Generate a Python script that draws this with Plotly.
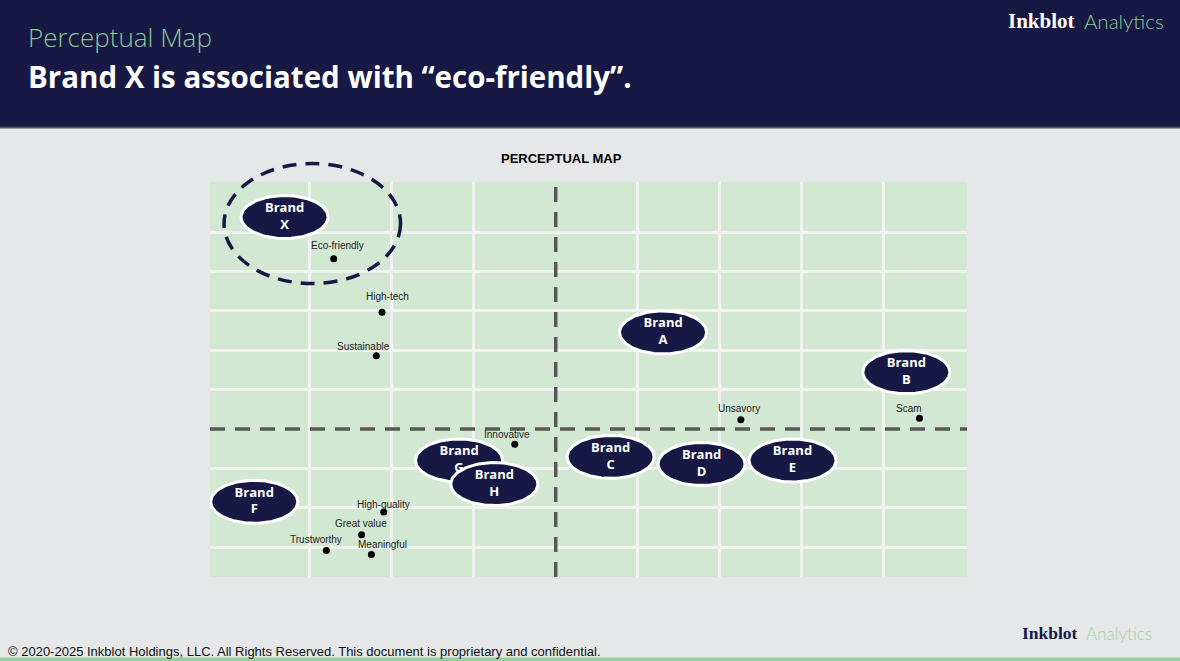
import numpy as np
import plotly.graph_objects as go

# ---------------- data ----------------
attr_names = ["Eco-friendly", "High-tech", "Sustainable", "Unsavory", "Scam",
              "Innovative", "High-quality", "Great value", "Trustworthy", "Meaningful"]
attr_x = [-2.71, -2.12, -2.19, 2.26, 4.44, -0.50, -2.10, -2.37, -2.80, -2.25]
attr_y = [4.32, 2.96, 1.86, 0.23, 0.27, -0.39, -2.11, -2.69, -3.09, -3.19]

brand_names = ["X", "A", "B", "C", "D", "E", "F", "G", "H"]
brand_x = [-3.31, 1.31, 4.28, 0.67, 1.78, 2.89, -3.68, -1.18, -0.75]
brand_y = [5.38, 2.45, 1.44, -0.71, -0.89, -0.80, -1.85, -0.80, -1.40]

highlight_brand = "X"

x_grid = [-3, -2, -1, 1, 2, 3, 4]
y_grid = [-3, -2, -1, 1, 2, 3, 4, 5]

# ---------------- styles ----------------
W, H = 1180, 661
NAVY = "#171844"
GREEN_TXT = "#8cc894"
SLIDE_BG = "#e6e7e9"
PLOT_BG = "#d3e8d3"
GRID = "#f1f3f1"
DASH = "#585858"

X_RANGE = [-4.22, 5.02]
Y_RANGE = [-3.76, 6.27]
PLOT_PX_X = (210, 967)
PLOT_PX_Y = (182, 577)
ELL_RX_PX, ELL_RY_PX = 43.5, 21.5   # ellipse half-size in pixels

# label offsets (pixels, right / up) relative to each dot
label_shift = {
    "Eco-friendly": (4, 13), "High-tech": (5, 16), "Sustainable": (-13, 9),
    "Unsavory": (-2, 11), "Scam": (-10, 10), "Innovative": (-8, 10),
    "High-quality": (0, 8), "Great value": (-1, 11), "Trustworthy": (-10, 11),
    "Meaningful": (11, 10),
}

def fx(px):
    return px / W

def fy(py):
    return 1 - py / H

XD = [fx(PLOT_PX_X[0]), fx(PLOT_PX_X[1])]
YD = [fy(PLOT_PX_Y[1]), fy(PLOT_PX_Y[0])]

def data_to_paper_x(v):
    return XD[0] + (v - X_RANGE[0]) / (X_RANGE[1] - X_RANGE[0]) * (XD[1] - XD[0])

def data_to_paper_y(v):
    return YD[0] + (v - Y_RANGE[0]) / (Y_RANGE[1] - Y_RANGE[0]) * (YD[1] - YD[0])

# pixel -> data-unit conversion from the axis scales
ux = (PLOT_PX_X[1] - PLOT_PX_X[0]) / (X_RANGE[1] - X_RANGE[0])
uy = (PLOT_PX_Y[1] - PLOT_PX_Y[0]) / (Y_RANGE[1] - Y_RANGE[0])
theta = np.linspace(0, 2 * np.pi, 121)

fig = go.Figure()

# brand ellipses + labels, in drawing order
for b, bx, by in zip(brand_names, brand_x, brand_y):
    fig.add_trace(go.Scatter(
        x=bx + (ELL_RX_PX / ux) * np.cos(theta),
        y=by + (ELL_RY_PX / uy) * np.sin(theta),
        mode="lines", fill="toself", fillcolor=NAVY,
        line=dict(color="white", width=3),
        hoverinfo="skip", showlegend=False,
    ))
    fig.add_trace(go.Scatter(
        x=[bx], y=[by], mode="text", text=["Brand<br>" + b],
        textposition="middle center",
        textfont=dict(family="Open Sans", size=13, color="white", weight=700),
        hoverinfo="skip", showlegend=False,
    ))

# attribute dots
fig.add_trace(go.Scatter(
    x=attr_x, y=attr_y, mode="markers",
    marker=dict(size=7, color="#000000"),
    hoverinfo="text", text=attr_names, showlegend=False,
))

shapes = []
# header band
shapes.append(dict(type="rect", xref="paper", yref="paper", x0=0, x1=1,
                   y0=fy(127), y1=1, fillcolor=NAVY, line=dict(width=0), layer="below"))
shapes.append(dict(type="line", xref="paper", yref="paper", x0=0, x1=1,
                   y0=fy(127.5), y1=fy(127.5), line=dict(color="#50535b", width=2), layer="below"))
# bottom green rule
shapes.append(dict(type="rect", xref="paper", yref="paper", x0=0, x1=1,
                   y0=0, y1=fy(657.5), fillcolor="#95d09b", line=dict(width=0), layer="below"))

# quadrant dashed axes
shapes.append(dict(type="line", xref="x", yref="paper", x0=0, x1=0,
                   y0=fy(577), y1=fy(186),
                   line=dict(color=DASH, width=3.5, dash="15px,10px"), layer="above"))
shapes.append(dict(type="line", xref="paper", yref="y", x0=XD[0], x1=XD[1], y0=0, y1=0,
                   line=dict(color=DASH, width=3.5, dash="15px,10px"), layer="above"))

# highlight ring around brand X (paper-referenced so it is not clipped by the plot area)
hi = brand_names.index(highlight_brand)
shapes.append(dict(
    type="circle", xref="paper", yref="paper",
    xsizemode="pixel", ysizemode="pixel",
    xanchor=data_to_paper_x(brand_x[hi]), yanchor=data_to_paper_y(brand_y[hi]),
    x0=-60.5, x1=116, y0=-66.5, y1=53.5,
    fillcolor="rgba(0,0,0,0)", line=dict(color=NAVY, width=3.5, dash="14px,9px"),
    layer="above",
))

annotations = []
# attribute labels
for n, ax_, ay_ in zip(attr_names, attr_x, attr_y):
    dx, dy = label_shift[n]
    annotations.append(dict(
        x=ax_, y=ay_, xref="x", yref="y", text=n, showarrow=False,
        xshift=dx, yshift=dy, xanchor="center", yanchor="middle",
        font=dict(family="Liberation Sans", size=10, color="#222222"),
    ))

# header texts
annotations += [
    dict(x=fx(26), y=fy(37), xref="paper", yref="paper", text="Perceptual Map",
         showarrow=False, xanchor="left", yanchor="middle",
         font=dict(family="Open Sans", size=26, color=GREEN_TXT, weight=300)),
    dict(x=fx(26), y=fy(76), xref="paper", yref="paper",
         text="Brand X is associated with “eco-friendly”.",
         showarrow=False, xanchor="left", yanchor="middle",
         font=dict(family="Open Sans", size=29.5, color="white", weight=700)),
    dict(x=fx(1077), y=fy(21), xref="paper", yref="paper", text="Inkblot",
         showarrow=False, xanchor="right", yanchor="middle",
         font=dict(family="Liberation Serif", size=21, color="white", weight=700)),
    dict(x=fx(1082), y=fy(21), xref="paper", yref="paper", text="Analytics",
         showarrow=False, xanchor="left", yanchor="middle",
         font=dict(family="Lato", size=20.5, color=GREEN_TXT, weight=300)),
    # chart title
    dict(x=fx(561), y=fy(158), xref="paper", yref="paper", text="PERCEPTUAL MAP",
         showarrow=False, xanchor="center", yanchor="middle",
         font=dict(family="Liberation Sans", size=13, color="#000000", weight=700)),
    # footer
    dict(x=fx(1080), y=fy(633), xref="paper", yref="paper", text="Inkblot",
         showarrow=False, xanchor="right", yanchor="middle",
         font=dict(family="Liberation Serif", size=17.5, color=NAVY, weight=700)),
    dict(x=fx(1084), y=fy(633), xref="paper", yref="paper", text="Analytics",
         showarrow=False, xanchor="left", yanchor="middle",
         font=dict(family="Lato", size=17, color="#9ad6a0", weight=300)),
    dict(x=fx(6), y=fy(651), xref="paper", yref="paper",
         text="© 2020-2025 Inkblot Holdings, LLC. All Rights Reserved. This document is proprietary and confidential.",
         showarrow=False, xanchor="left", yanchor="middle",
         font=dict(family="Liberation Sans", size=13, color="#111111")),
]

fig.update_layout(
    width=W, height=H,
    margin=dict(l=0, r=0, t=0, b=0, pad=0),
    paper_bgcolor=SLIDE_BG, plot_bgcolor=PLOT_BG,
    showlegend=False,
    shapes=shapes, annotations=annotations,
    xaxis=dict(domain=XD, range=X_RANGE,
               tickvals=x_grid, showticklabels=False, ticks="",
               showgrid=True, gridcolor=GRID, gridwidth=3,
               zeroline=False, showline=False, fixedrange=True),
    yaxis=dict(domain=YD, range=Y_RANGE,
               tickvals=y_grid, showticklabels=False, ticks="",
               showgrid=True, gridcolor=GRID, gridwidth=3,
               zeroline=False, showline=False, fixedrange=True),
)

fig.write_html("out.html")
